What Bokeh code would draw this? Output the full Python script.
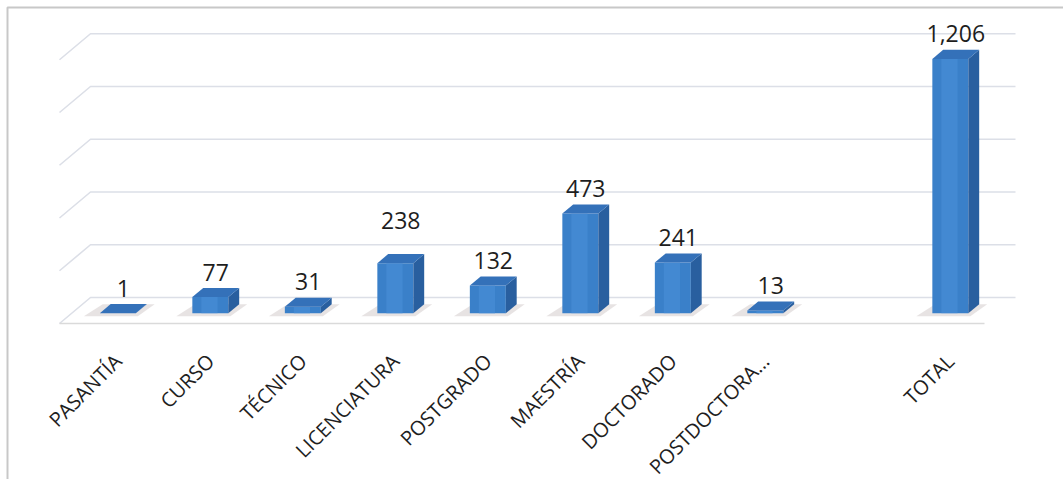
import math
from bokeh.plotting import figure
from bokeh.embed import file_html
from bokeh.resources import INLINE
from bokeh.models import Range1d
from bokeh.core.properties import value

# ---------------- data ----------------
categories = ["PASANTÍA", "CURSO", "TÉCNICO", "LICENCIATURA", "POSTGRADO",
              "MAESTRÍA", "DOCTORADO", "POSTDOCTORA…", "", "TOTAL"]
counts = [1, 77, 31, 238, 132, 473, 241, 13, None, 1206]
grid_values = [0, 250, 500, 750, 1000, 1250]

# ---------------- geometry (pixels -> data) ----------------
W, H = 1063, 479
PX_CAT = 92.5          # pixels per category
PX_VAL = 0.211         # pixels per unit of value
FLOOR_X0, FLOOR_Y0 = 59, 323   # floor front-left corner on screen
DEPTH_PX = (31, -26)   # 3-D depth vector of the floor
BAR_F0, BAR_F1 = 0.39, 0.74    # bar depth span (fraction of floor depth)
BAR_HALF = 18 / PX_CAT
LABEL_GAP_PX = 16
LABEL_NUDGE_PX = {"LICENCIATURA": 18}   # label moved up by hand in the original


def px_to_x(px):
    return -0.5 + (px - FLOOR_X0) / PX_CAT


def py_to_y(py):
    return (FLOOR_Y0 - py) / PX_VAL


DX = DEPTH_PX[0] / PX_CAT
DY = -DEPTH_PX[1] / PX_VAL
n = len(categories)

p = figure(width=W, height=H,
           x_range=Range1d(px_to_x(0), px_to_x(W)),
           y_range=Range1d(py_to_y(H), py_to_y(0)),
           output_backend="svg", toolbar_location=None,
           x_axis_location=None, y_axis_location=None,
           min_border=0)
p.grid.visible = False
p.outline_line_color = None
p.background_fill_color = "white"
p.border_fill_color = "white"

# ---------------- chart border ----------------
p.line([px_to_x(7), px_to_x(7), px_to_x(W + 5)],
       [py_to_y(H + 5), py_to_y(7), py_to_y(7)],
       line_color="#c8c8c8", line_width=2)

# ---------------- 3-D gridlines (back wall + left side) ----------------
gx, gy = [], []
for gv in grid_values:
    gx.append([-0.5, -0.5 + DX, n - 0.5 + DX])
    gy.append([gv, gv + DY, gv + DY])
p.multi_line(gx, gy, line_color="#dcdfe7", line_width=1.6)
# floor front edge
p.line([-0.5, n - 0.5], [0, 0], line_color="#dadada", line_width=1.6)

# ---------------- bars ----------------
bd = BAR_F1 - BAR_F0
shadow_xs, shadow_ys = [], []
top_xs, top_ys, side_xs, side_ys = [], [], [], []
fl, fr, fb, ft = [], [], [], []
hl_l, hl_r = [], []
lab_x, lab_y, lab_t = [], [], []
for i, v in enumerate(counts):
    if v is None:
        continue
    xf0 = i - BAR_HALF + BAR_F0 * DX
    xf1 = i + BAR_HALF + BAR_F0 * DX
    yb = BAR_F0 * DY
    yt = v + BAR_F0 * DY
    fl.append(xf0); fr.append(xf1); fb.append(yb); ft.append(yt)
    w = xf1 - xf0
    hl_l.append(xf0 + 0.25 * w); hl_r.append(xf0 + 0.7 * w)
    top_xs.append([xf0, xf1, xf1 + bd * DX, xf0 + bd * DX])
    top_ys.append([yt, yt, yt + bd * DY, yt + bd * DY])
    side_xs.append([xf1, xf1 + bd * DX, xf1 + bd * DX, xf1])
    side_ys.append([yb, yb + bd * DY, yt + bd * DY, yt])
    shadow_xs.append([xf0 - 16 / PX_CAT, xf1 + 2 / PX_CAT,
                      xf1 + bd * DX + 8 / PX_CAT, xf0 + bd * DX - 8 / PX_CAT])
    shadow_ys.append([yb - 3 / PX_VAL, yb - 3 / PX_VAL,
                      yb + bd * DY, yb + bd * DY])
    gap = LABEL_GAP_PX + LABEL_NUDGE_PX.get(categories[i], 0)
    lab_x.append(i + BAR_F0 * DX + bd * DX / 2)
    lab_y.append(v + BAR_F1 * DY + gap / PX_VAL)
    lab_t.append(f"{v:,}")

p.patches(shadow_xs, shadow_ys, fill_color="#b9aeb0", fill_alpha=0.35,
          line_color=None)
p.quad(left=fl, right=fr, bottom=fb, top=ft, fill_color="#3a80c9",
       line_color=None)
p.quad(left=hl_l, right=hl_r, bottom=fb, top=ft, fill_color="#4a90d8",
       fill_alpha=0.6, line_color=None)
p.patches(side_xs, side_ys, fill_color="#295f9f", line_color=None)
p.patches(top_xs, top_ys, fill_color="#3471b9", line_color=None)

# ---------------- value labels ----------------
p.text(lab_x, lab_y, text=lab_t, text_align="center",
       text_baseline="alphabetic", text_font=value("Open Sans"),
       text_font_size="23px", text_color="#1e1e1e")

# ---------------- category labels ----------------
cx = [i + BAR_F0 * DX for i, c in enumerate(categories) if c]
ct = [c for c in categories if c]
cy = [py_to_y(357)] * len(ct)
p.text(cx, cy, text=ct, angle=math.pi / 4, text_align="right",
       text_baseline="middle", text_font=value("Open Sans"),
       text_font_size="20px", text_color="#1e1e1e")

open("out.html", "w").write(file_html(p, INLINE))
